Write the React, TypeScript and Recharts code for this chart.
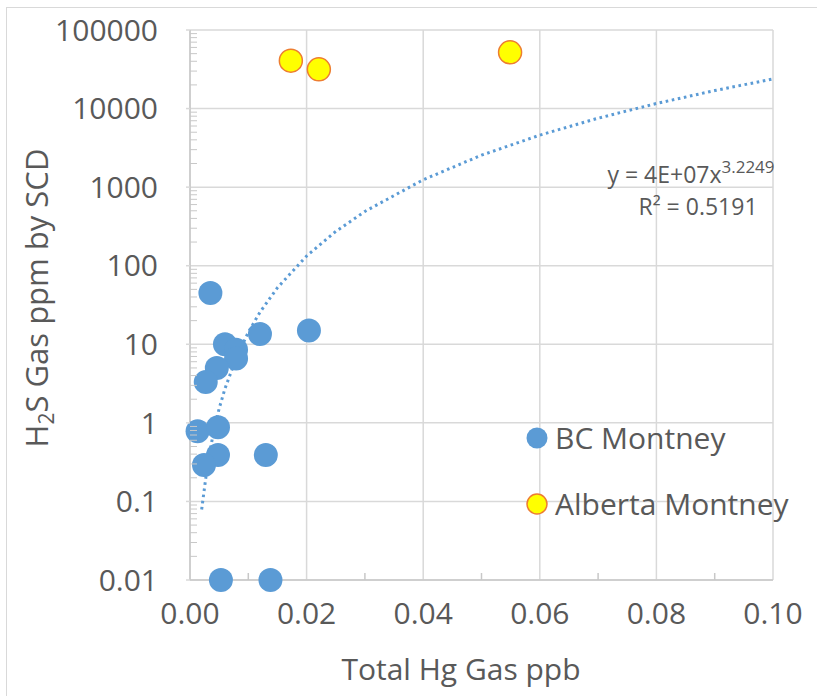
import { CartesianGrid, Scatter, ScatterChart, XAxis, YAxis } from 'recharts';

// BC Montney samples (Total Hg ppb, H2S ppm)
const bcHg = [0.0035, 0.012, 0.0204, 0.006, 0.0079, 0.0079, 0.0046, 0.0027, 0.0013, 0.0048, 0.0048, 0.0024, 0.013, 0.0053, 0.0138];
const bcH2S = [45, 13.5, 15, 10, 8.5, 6.6, 5, 3.3, 0.78, 0.88, 0.39, 0.29, 0.39, 0.01, 0.01];

// Alberta Montney samples
const abHg = [0.0173, 0.0221, 0.0549];
const abH2S = [40700, 31600, 52000];

// power trendline
const trendHg = [0.002, 0.003, 0.004, 0.005, 0.006, 0.008, 0.01, 0.012, 0.015, 0.02, 0.025, 0.03, 0.04, 0.05, 0.06, 0.07, 0.08, 0.09, 0.1];
const trendH2S = [0.079, 0.29, 0.74, 1.52, 2.73, 6.9, 14.2, 25.6, 52.5, 133, 273, 491, 1242, 2550, 4590, 7540, 11600, 16950, 23800];

const xTicks = [0, 0.02, 0.04, 0.06, 0.08, 0.1];
const xMinorTicks = [0.01, 0.03, 0.05, 0.07, 0.09];
const yTicks = [0.01, 0.1, 1, 10, 100, 1000, 10000, 100000];
const yMinorTicks = [0.02, 0.03, 0.04, 0.05, 0.06, 0.07, 0.08, 0.09, 0.2, 0.3, 0.4, 0.5, 0.6, 0.7, 0.8, 0.9, 2, 3, 4, 5, 6, 7, 8, 9, 20, 30, 40, 50, 60, 70, 80, 90, 200, 300, 400, 500, 600, 700, 800, 900, 2000, 3000, 4000, 5000, 6000, 7000, 8000, 9000, 20000, 30000, 40000, 50000, 60000, 70000, 80000, 90000];

const bcData = bcHg.map((x, i) => ({ x, y: bcH2S[i] }));
const abData = abHg.map((x, i) => ({ x, y: abH2S[i] }));
const trendData = trendHg.map((x, i) => ({ x, y: trendH2S[i] }));

const FONT = '"Open Sans", sans-serif';
const TEXT = '#595959';
const GRID = '#d9d9d9';
const AXIS = '#c8c8c8';
const BLUE = '#5b9bd5';

const X_GAP = 23; // axis line to x tick label
const Y_GAP = 32; // axis line to y tick label

const BlueDot = (p: any) => <circle cx={p.cx} cy={p.cy} r={12} fill={BLUE} />;
const YellowDot = (p: any) => <circle cx={p.cx} cy={p.cy} r={11.5} fill="#ffff00" stroke="#ed7d31" strokeWidth={1.5} />;

const XTick = (p: any) => {
  const v = p.payload.value;
  const axisY = p.y - X_GAP;
  if (!xTicks.includes(v)) {
    return <line x1={p.x} x2={p.x} y1={axisY} y2={axisY - 7} stroke={AXIS} strokeWidth={1.5} />;
  }
  return (
    <text x={p.x} y={p.y} dy="0.71em" textAnchor="middle" fill={TEXT} fontSize={30} fontFamily={FONT}>
      {v.toFixed(2)}
    </text>
  );
};

const YTick = (p: any) => {
  const v = p.payload.value;
  const axisX = p.x + Y_GAP;
  if (!yTicks.includes(v)) {
    return <line x1={axisX} x2={axisX + 7} y1={p.y} y2={p.y} stroke={AXIS} strokeWidth={1} />;
  }
  return (
    <g>
      <line x1={axisX - 4} x2={axisX} y1={p.y} y2={p.y} stroke={GRID} strokeWidth={1.5} />
      <text x={p.x} y={p.y} dy="0.355em" textAnchor="end" fill={TEXT} fontSize={30} fontFamily={FONT}>
        {String(v)}
      </text>
    </g>
  );
};

export default function App() {
  return (
    <div style={{ position: 'absolute', left: 0, top: 0, width: 817, height: 696, background: '#fff', fontFamily: FONT }}>
      <div style={{ position: 'absolute', left: 6, top: 7, right: 0, bottom: 0, borderTop: `1.5px solid ${GRID}`, borderLeft: `1.5px solid ${GRID}` }} />
      <ScatterChart width={817} height={696} margin={{ top: 30, right: 44, bottom: 0, left: 0 }} style={{ position: 'absolute', left: 0, top: 0 }}>
        <CartesianGrid stroke={GRID} strokeWidth={1.5} horizontalValues={yTicks} verticalValues={xTicks} />
        <XAxis
          dataKey="x"
          type="number"
          domain={[0, 0.1]}
          ticks={[...xTicks, ...xMinorTicks]}
          interval={0}
          height={116}
          tickLine={false}
          tickSize={0}
          tickMargin={X_GAP}
          axisLine={{ stroke: AXIS, strokeWidth: 1.5 }}
          tick={XTick}
          label={{
            content: () => (
              <text x={461} y={680} textAnchor="middle" fill={TEXT} fontSize={30} fontFamily={FONT}>
                Total Hg Gas ppb
              </text>
            ),
          }}
        />
        <YAxis
          dataKey="y"
          type="number"
          scale="log"
          domain={[0.01, 100000]}
          ticks={[...yTicks, ...yMinorTicks]}
          interval={0}
          width={190}
          tickSize={0}
          tickMargin={Y_GAP}
          tickLine={false}
          axisLine={{ stroke: AXIS, strokeWidth: 1.5 }}
          tick={YTick}
          label={{
            content: () => (
              <text x={48} y={298} transform="rotate(-90 48 298)" textAnchor="middle" fill={TEXT} fontSize={31} fontFamily={FONT}>
                <tspan>H</tspan>
                <tspan fontSize={21} dy={6}>2</tspan>
                <tspan dy={-6}>S Gas ppm by SCD</tspan>
              </text>
            ),
          }}
        />
        <Scatter
          name="trend"
          data={trendData}
          isAnimationActive={false}
          line={{ stroke: BLUE, strokeWidth: 3, strokeDasharray: '2.6 3.6' }}
          lineType="joint"
          shape={() => <g />}
          legendType="none"
        />
        <Scatter name="BC Montney" data={bcData} isAnimationActive={false} shape={BlueDot} />
        <Scatter name="Alberta Montney" data={abData} isAnimationActive={false} shape={YellowDot} />

        <text textAnchor="middle" fill={TEXT} fontSize={23} fontFamily={FONT}>
          <tspan x={691} y={183}>y = 4E+07x</tspan>
          <tspan fontSize={17} dy={-10}>3.2249</tspan>
          <tspan x={698} y={215}>R² = 0.5191</tspan>
        </text>

        <g fontFamily={FONT} fontSize={30} fill={TEXT}>
          <circle cx={537} cy={438} r={10.5} fill={BLUE} />
          <text x={555} y={438} dy="0.35em">BC Montney</text>
          <circle cx={537} cy={504} r={10} fill="#ffff00" stroke="#ed7d31" strokeWidth={1.5} />
          <text x={555} y={504} dy="0.35em">Alberta Montney</text>
        </g>
      </ScatterChart>
    </div>
  );
}
